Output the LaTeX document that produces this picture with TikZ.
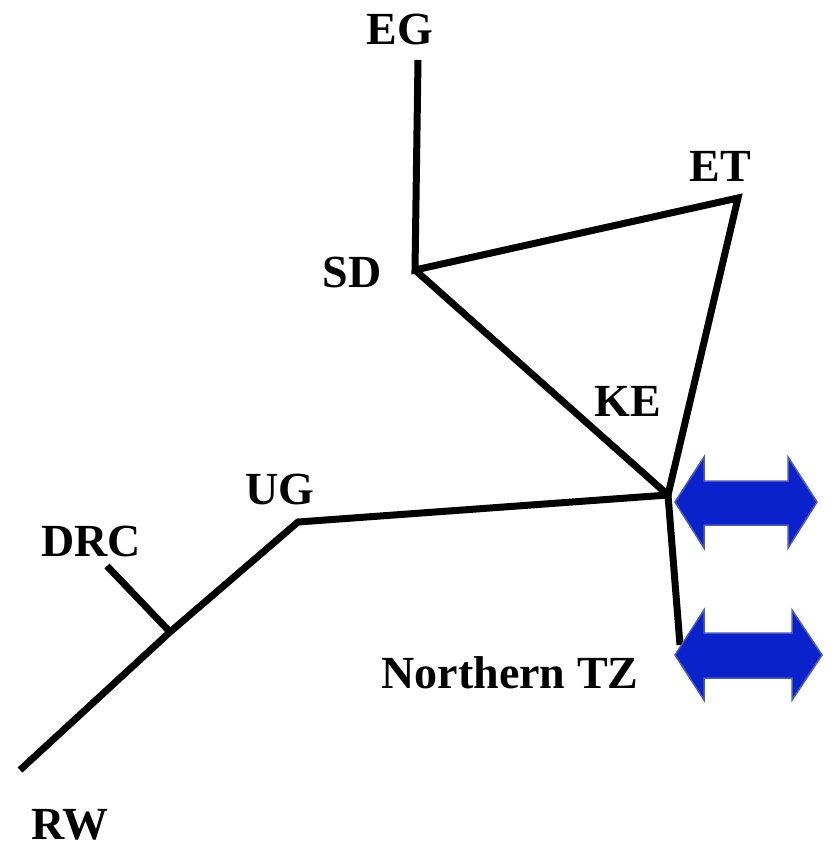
\documentclass[tikz,border=0pt]{standalone}
\usepackage{fontspec}
\setmainfont{Liberation Serif}
\definecolor{arrblue}{HTML}{0A22CC}
\definecolor{arredge}{HTML}{4C5ABE}
\begin{document}
\begin{tikzpicture}[x=1pt,y=-1pt,
  branch/.style={line width=7pt,line cap=butt,line join=miter},
  lbl/.style={font=\bfseries\fontsize{46}{50}\selectfont,inner sep=0pt},
  dbl/.style={fill=arrblue,draw=arredge,line width=1.5pt}]
\useasboundingbox (0,0) rectangle (832,848);
% junction points
\coordinate (eg) at (418,60);
\coordinate (sd) at (415,270);
\coordinate (et) at (738,198);
\coordinate (ke) at (668,495);
\coordinate (ug) at (298,522);
\coordinate (drcj) at (170,632);
\coordinate (drc) at (107,566);
\coordinate (rw) at (20,770);
\coordinate (tz) at (680,645);
% branches
\draw[branch] (eg) -- (sd) -- (et) -- (ke) -- (sd);
\draw[branch] (ke) -- (ug) -- (drcj) -- (rw);
\draw[branch] (drcj) -- (drc);
\draw[branch] (ke) -- (tz);
% labels
\node[lbl] (lEG) at (400,29) {EG};
\node[lbl] (lET) at (720,166) {ET};
\node[lbl] (lSD) at (352,272) {SD};
\node[lbl] (lKE) at (628,401) {KE};
\node[lbl] (lUG) at (280,489) {UG};
\node[lbl] (lDRC) at (91,541) {DRC};
\node[lbl] (lTZ) at (510,673) {Northern TZ};
\node[lbl] (lRW) at (70,825) {RW};
% double arrows
\draw[dbl] (675,502) -- (704,457) -- (704,481) -- (788,481) -- (788,457) -- (817,502)
  -- (788,548) -- (788,525) -- (704,525) -- (704,548) -- cycle;
\draw[dbl] (675,655) -- (704,610) -- (704,633) -- (792,633) -- (792,610) -- (822,655)
  -- (792,700) -- (792,678) -- (704,678) -- (704,700) -- cycle;
\end{tikzpicture}
\end{document}
